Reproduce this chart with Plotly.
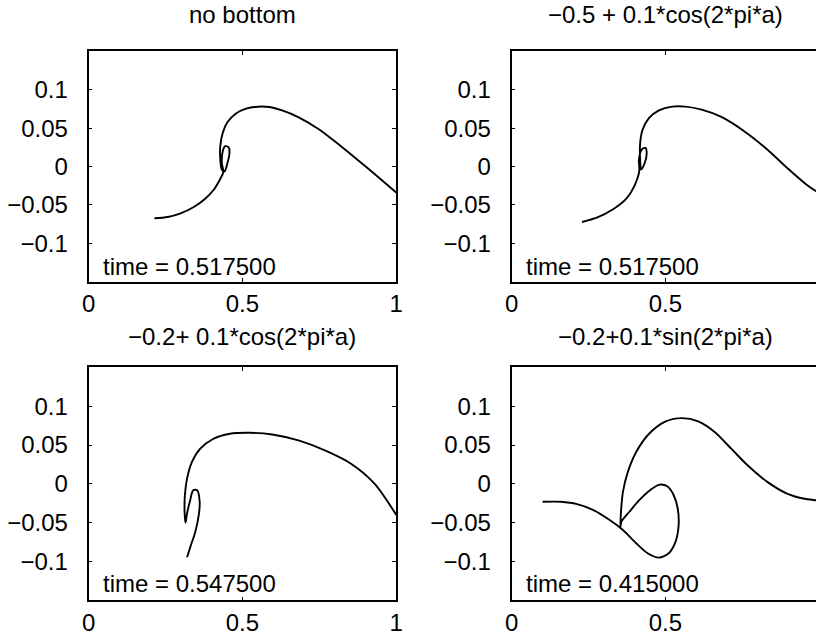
import plotly.graph_objects as go

# ---- data (x in [0,1], y in [-0.15,0.15]) ----
nb_x = [0.214, 0.257, 0.299, 0.342, 0.379, 0.406, 0.427, 0.438, 0.433, 0.436, 0.444, 0.455,
        0.458, 0.451, 0.442, 0.433, 0.428, 0.428, 0.436, 0.451, 0.478, 0.512, 0.550, 0.587,
        0.629, 0.683, 0.747, 0.800, 0.853, 0.920, 1.000]
nb_y = [-0.0675, -0.0658, -0.0610, -0.0528, -0.0420, -0.0307, -0.0169, -0.0074, 0.0048, 0.0199,
        0.0264, 0.0251, 0.0178, 0.0039, -0.0065, -0.0039, 0.0091, 0.0264, 0.0438, 0.0575,
        0.0688, 0.0753, 0.0779, 0.0775, 0.0731, 0.0641, 0.0489, 0.0329, 0.0156, -0.0065, -0.0340]

c5_x = [0.229, 0.277, 0.330, 0.373, 0.399, 0.415, 0.414, 0.423, 0.435, 0.439, 0.431, 0.421,
        0.418, 0.418, 0.426, 0.447, 0.479, 0.522, 0.565, 0.618, 0.682, 0.756, 0.831, 0.895,
        0.958, 0.989, 1.000]
c5_y = [-0.0723, -0.0667, -0.0558, -0.0420, -0.0255, -0.0061, 0.0091, 0.0221, 0.0242, 0.0156,
        0.0026, -0.0039, 0.0069, 0.0307, 0.0480, 0.0632, 0.0731, 0.0779, 0.0779, 0.0740,
        0.0645, 0.0459, 0.0221, -0.0017, -0.0234, -0.0320, -0.0345]

c2_x = [0.320, 0.331, 0.347, 0.358, 0.361, 0.353, 0.340, 0.329, 0.320, 0.315, 0.312, 0.313,
        0.320, 0.336, 0.363, 0.406, 0.459, 0.523, 0.597, 0.682, 0.768, 0.853, 0.930, 1.000]
c2_y = [-0.0945, -0.0808, -0.0615, -0.0402, -0.0231, -0.0082, -0.0082, -0.0231, -0.0380, -0.0500,
        -0.0359, -0.0146, 0.0068, 0.0282, 0.0453, 0.0581, 0.0645, 0.0658, 0.0636, 0.0559,
        0.0431, 0.0260, 0.0000, -0.0400]

s2_x = [0.101, 0.160, 0.213, 0.266, 0.319, 0.362, 0.405, 0.442, 0.479, 0.511, 0.533, 0.543,
        0.540, 0.527, 0.506, 0.481, 0.453, 0.415, 0.383, 0.357, 0.354, 0.355, 0.362, 0.378,
        0.405, 0.447, 0.501, 0.554, 0.607, 0.660, 0.714, 0.767, 0.831, 0.895, 0.948, 0.989, 1.000]
s2_y = [-0.0231, -0.0231, -0.0261, -0.0338, -0.0466, -0.0594, -0.0765, -0.0893, -0.0949, -0.0893,
        -0.0744, -0.0530, -0.0317, -0.0146, -0.0031, -0.0009, -0.0073, -0.0210, -0.0359, -0.0487,
        -0.0551, -0.0402, -0.0103, 0.0154, 0.0410, 0.0645, 0.0803, 0.0846, 0.0803, 0.0667,
        0.0453, 0.0239, 0.0026, -0.0124, -0.0188, -0.0210, -0.0215]

titles = ["no bottom", "\u22120.5 + 0.1*cos(2*pi*a)",
          "\u22120.2+ 0.1*cos(2*pi*a)", "\u22120.2+0.1*sin(2*pi*a)"]
times = ["time = 0.517500", "time = 0.517500", "time = 0.547500", "time = 0.415000"]

x_ticks = [0, 0.5, 1]
x_ticktext = ["0", "0.5", "1"]
y_ticks = [-0.1, -0.05, 0, 0.05, 0.1]
y_ticktext = ["\u22120.1", "\u22120.05", "0", "0.05", "0.1"]

# ---- layout geometry (pixels) ----
W, H = 823, 636
FONT = "Liberation Sans, Arial, Helvetica, sans-serif"
FS = 24
left_px = [(83, 396), (513.3, 826.3)]
top_px = [(51.5, 282.5), (368.5, 602.3)]
title_py = [15, 338]
time_py = [267, 585]

fig = go.Figure()
series = [(nb_x, nb_y), (c5_x, c5_y), (c2_x, c2_y), (s2_x, s2_y)]

for i, (xs, ys) in enumerate(series):
    r, c = divmod(i, 2)
    n = i + 1
    xa = "x" if n == 1 else f"x{n}"
    ya = "y" if n == 1 else f"y{n}"
    fig.add_trace(go.Scatter(x=xs, y=ys, mode="lines", xaxis=xa, yaxis=ya,
                             line=dict(color="black", width=1.9, shape="spline", smoothing=0.8),
                             showlegend=False, hoverinfo="skip"))
    x0, x1 = left_px[c]
    y0, y1 = top_px[r]
    visible_right = min(x1, W)
    xmax = (visible_right - x0) / (x1 - x0)
    xdom = [x0 / W, visible_right / W]
    ydom = [(H - y1) / H, (H - y0) / H]
    xkey = "xaxis" if n == 1 else f"xaxis{n}"
    ykey = "yaxis" if n == 1 else f"yaxis{n}"
    fig.layout[xkey] = dict(domain=xdom, range=[0, xmax], anchor=ya,
                            tickvals=x_ticks, ticktext=x_ticktext,
                            ticks="inside", ticklen=4, tickcolor="black",
                            showline=True, linecolor="black", linewidth=1.8,
                            mirror="ticks", showgrid=False, zeroline=False,
                            tickfont=dict(family=FONT, size=FS, color="black"),
                            ticklabelstandoff=0, fixedrange=True)
    fig.layout[ykey] = dict(domain=ydom, range=[-0.15, 0.15], anchor=xa,
                            tickvals=y_ticks, ticktext=y_ticktext,
                            ticks="inside", ticklen=4, tickcolor="black",
                            showline=True, linecolor="black", linewidth=1.8,
                            mirror=("ticks" if c == 0 else False),
                            showgrid=False, zeroline=False,
                            tickfont=dict(family=FONT, size=FS, color="black"),
                            ticklabelstandoff=14, fixedrange=True)
    # title
    fig.add_annotation(text=titles[i], xref="paper", yref="paper",
                       x=((x0 + x1) / 2) / W, y=(H - title_py[r]) / H,
                       xanchor="center", yanchor="middle", showarrow=False,
                       font=dict(family=FONT, size=FS, color="black"))
    # time label
    fig.add_annotation(text=times[i], xref=f"{xa} domain", yref=f"{ya} domain",
                       x=13 / (visible_right - x0),
                       y=(y1 - time_py[r]) / (y1 - y0),
                       xanchor="left", yanchor="middle", showarrow=False,
                       font=dict(family=FONT, size=FS, color="black"))

fig.update_layout(width=W, height=H, margin=dict(l=0, r=0, t=0, b=0),
                  paper_bgcolor="white", plot_bgcolor="white")

fig.write_html("out.html", config={"displayModeBar": False},
               post_script="document.body.style.margin='0px';document.body.style.overflow='hidden';")
